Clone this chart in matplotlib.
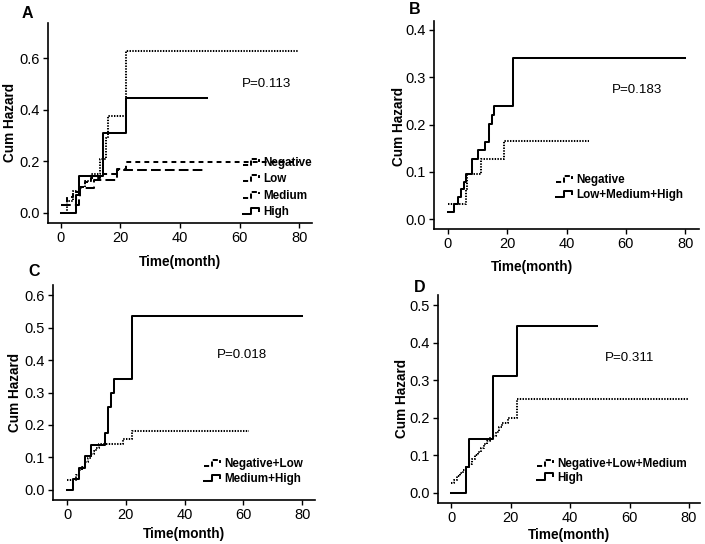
import matplotlib
matplotlib.use("Agg")
import matplotlib.pyplot as plt
from matplotlib.legend_handler import HandlerLine2D
from matplotlib.lines import Line2D
from matplotlib.ticker import FormatStrFormatter

plt.rcParams['lines.scale_dashes'] = False

# ---------------- data (time in months, cumulative hazard) ----------------
# Panel A
A_neg_t = [0, 6, 6.5, 11, 19]
A_neg_h = [0.032, 0.063, 0.095, 0.128, 0.165]
A_neg_end = 48
A_low_t = [0, 2, 4, 6, 8, 10, 13, 19, 22]
A_low_h = [0.03, 0.06, 0.08, 0.10, 0.12, 0.135, 0.15, 0.17, 0.196]
A_low_end = 80
A_med_t = [0, 2, 4, 6, 8, 10, 13, 15, 16, 22]
A_med_h = [0.0, 0.045, 0.085, 0.10, 0.125, 0.15, 0.21, 0.29, 0.375, 0.627]
A_med_end = 80
A_high_t = [0, 5, 6, 14, 22]
A_high_h = [0.0, 0.071, 0.143, 0.31, 0.444]
A_high_end = 49

# Panel B
B_neg_t = [0, 6, 6.5, 11, 19]
B_neg_h = [0.032, 0.063, 0.095, 0.128, 0.165]
B_neg_end = 47.5
B_rest_t = [0, 2, 3.3, 4.3, 5.3, 6, 8, 10, 12.6, 14, 14.8, 15.7, 22]
B_rest_h = [0.0155, 0.031, 0.047, 0.063, 0.079, 0.095, 0.128, 0.147, 0.164,
            0.201, 0.22, 0.239, 0.340]
B_rest_end = 80

# Panel C
C_nl_t = [0, 3, 4, 5, 6, 7, 8, 9, 10, 11, 19, 22]
C_nl_h = [0.03, 0.045, 0.06, 0.072, 0.085, 0.097, 0.11, 0.12, 0.13, 0.14,
          0.158, 0.18]
C_nl_end = 62
C_mh_t = [0, 2, 4, 6, 8, 13, 14, 15, 16, 22]
C_mh_h = [0.0, 0.034, 0.068, 0.103, 0.138, 0.176, 0.256, 0.30, 0.343, 0.537]
C_mh_end = 80

# Panel D
D_nlm_t = [0, 1, 2, 3, 4, 5, 6, 7, 8, 9, 10, 11, 12, 13, 14, 15, 16, 17, 19, 22]
D_nlm_h = [0.025, 0.035, 0.045, 0.052, 0.06, 0.068, 0.078, 0.09, 0.10, 0.11,
           0.12, 0.13, 0.138, 0.145, 0.152, 0.162, 0.175, 0.185, 0.20, 0.25]
D_nlm_end = 80
D_high_t = [0, 5, 6, 14, 22]
D_high_h = [0.0, 0.069, 0.144, 0.31, 0.444]
D_high_end = 49

p_values = ["P=0.113", "P=0.183", "P=0.018", "P=0.311"]
panel_letters = ["A", "B", "C", "D"]
x_ticks = [0, 20, 40, 60, 80]

# ---------------- styles ----------------
LW = 1.45
STY_SOLID = dict(color='black', lw=LW, linestyle='-')
STY_LONG = dict(color='black', lw=LW, linestyle=(0, (7, 3)))
STY_SHORT = dict(color='black', lw=LW, linestyle=(0, (3.5, 3)))
STY_DOT = dict(color='black', lw=LW, linestyle=(0, (1.0, 1.0)))

W, H = 705, 544
fig = plt.figure(figsize=(W / 100, H / 100), dpi=100)


def px_rect(l, r, t, b):
    return [l / W, 1 - b / H, (r - l) / W, (b - t) / H]


class StepHandler(HandlerLine2D):
    def create_artists(self, legend, orig_handle, xdescent, ydescent,
                       width, height, fontsize, trans):
        x0 = -xdescent
        lo = -ydescent + height * 0.15
        hi = -ydescent + height * 0.9
        mid = -ydescent + height * 0.55
        xs = [x0, x0 + width * 0.45, x0 + width * 0.45, x0 + width * 0.9, x0 + width * 0.9]
        ys = [lo, lo, hi, hi, mid]
        ln = Line2D(xs, ys, color='black', lw=orig_handle.get_linewidth(),
                    linestyle=orig_handle.get_linestyle())
        ln.set_transform(trans)
        return [ln]


def draw_step(ax, t, h, end, style, label):
    xs = list(t) + [end]
    ys = list(h) + [h[-1]]
    ax.step(xs, ys, where='post', label=label, **style)


TICKFONT = dict(family='Liberation Sans', size=10.5)
LABFONT = dict(family='Liberation Sans', size=9.8, weight='bold')


def setup(ax, ylim, yticks):
    ax.set_xlim(-4.3, 84.3)
    ax.set_ylim(*ylim)
    ax.set_xticks(x_ticks)
    ax.set_yticks(yticks)
    ax.yaxis.set_major_formatter(FormatStrFormatter('%.1f'))
    for s in ['top', 'right']:
        ax.spines[s].set_visible(False)
    for s in ['left', 'bottom']:
        ax.spines[s].set_linewidth(1.2)
    ax.tick_params(direction='out', length=3.5, width=1.0, pad=2.5)
    for lab in ax.get_xticklabels() + ax.get_yticklabels():
        lab.set_fontfamily(TICKFONT['family'])
        lab.set_fontsize(TICKFONT['size'])


def ftext(x, y, s, **kw):
    fig.text(x / W, 1 - y / H, s, **kw)


def legend(ax, x, y, spacing):
    ax.legend(handler_map={Line2D: StepHandler()}, loc='upper left',
              bbox_to_anchor=(x / W, 1 - y / H), bbox_transform=fig.transFigure,
              frameon=False, borderpad=0, borderaxespad=0, handlelength=1.5,
              handletextpad=0.2, labelspacing=spacing,
              prop=dict(family='Liberation Sans', size=8.4, weight='bold'))


# ---------------- Panel A ----------------
axA = fig.add_axes(px_rect(48, 312, 23, 223))
draw_step(axA, A_neg_t, A_neg_h, A_neg_end, STY_LONG, "Negative")
draw_step(axA, A_low_t, A_low_h, A_low_end, STY_SHORT, "Low")
draw_step(axA, A_med_t, A_med_h, A_med_end, STY_DOT, "Medium")
draw_step(axA, A_high_t, A_high_h, A_high_end, STY_SOLID, "High")
setup(axA, (-0.039, 0.736), [0.0, 0.2, 0.4, 0.6])
legend(axA, 243, 157, 0.38)

# ---------------- Panel B ----------------
axB = fig.add_axes(px_rect(434, 699, 21, 229))
draw_step(axB, B_neg_t, B_neg_h, B_neg_end, STY_DOT, "Negative")
draw_step(axB, B_rest_t, B_rest_h, B_rest_end, STY_SOLID, "Low+Medium+High")
setup(axB, (-0.021, 0.419), [0.0, 0.1, 0.2, 0.3, 0.4])
axB.set_xlim(-4.7, 84.7)
legend(axB, 556, 174, 0.28)

# ---------------- Panel C ----------------
axC = fig.add_axes(px_rect(53, 315, 285, 500))
draw_step(axC, C_nl_t, C_nl_h, C_nl_end, STY_DOT, "Negative+Low")
draw_step(axC, C_mh_t, C_mh_h, C_mh_end, STY_SOLID, "Medium+High")
setup(axC, (-0.031, 0.631), [0.0, 0.1, 0.2, 0.3, 0.4, 0.5, 0.6])
axC.set_xlim(-4.8, 84.4)
legend(axC, 204, 458, 0.28)

# ---------------- Panel D ----------------
axD = fig.add_axes(px_rect(438, 700, 295, 503))
draw_step(axD, D_nlm_t, D_nlm_h, D_nlm_end, STY_DOT, "Negative+Low+Medium")
draw_step(axD, D_high_t, D_high_h, D_high_end, STY_SOLID, "High")
setup(axD, (-0.027, 0.527), [0.0, 0.1, 0.2, 0.3, 0.4, 0.5])
axD.set_xlim(-4.4, 83.7)
legend(axD, 537, 458, 0.15)

# ---------------- texts ----------------
letter_pos = [(27, 13), (415, 10), (34, 272), (420, 288)]
for (x, y), s in zip(letter_pos, panel_letters):
    ftext(x, y, s, ha='center', va='center', family='Liberation Sans',
          size=11.5, weight='bold')

p_pos = [(242, 84), (612, 90), (217, 355), (605, 358)]
for (x, y), s in zip(p_pos, p_values):
    ftext(x, y, s, ha='left', va='center', family='Liberation Sans', size=9.6)

ylab_pos = [(10, 122), (399, 126), (15, 392), (402, 399)]
for (x, y) in ylab_pos:
    ftext(x, y, "Cum Hazard", ha='center', va='center', rotation=90, **LABFONT)

xlab_pos = [(180, 262), (532, 267), (184, 534), (569, 535)]
for (x, y) in xlab_pos:
    ftext(x, y, "Time(month)", ha='center', va='center', **LABFONT)

fig.savefig("out.png", dpi=100)
